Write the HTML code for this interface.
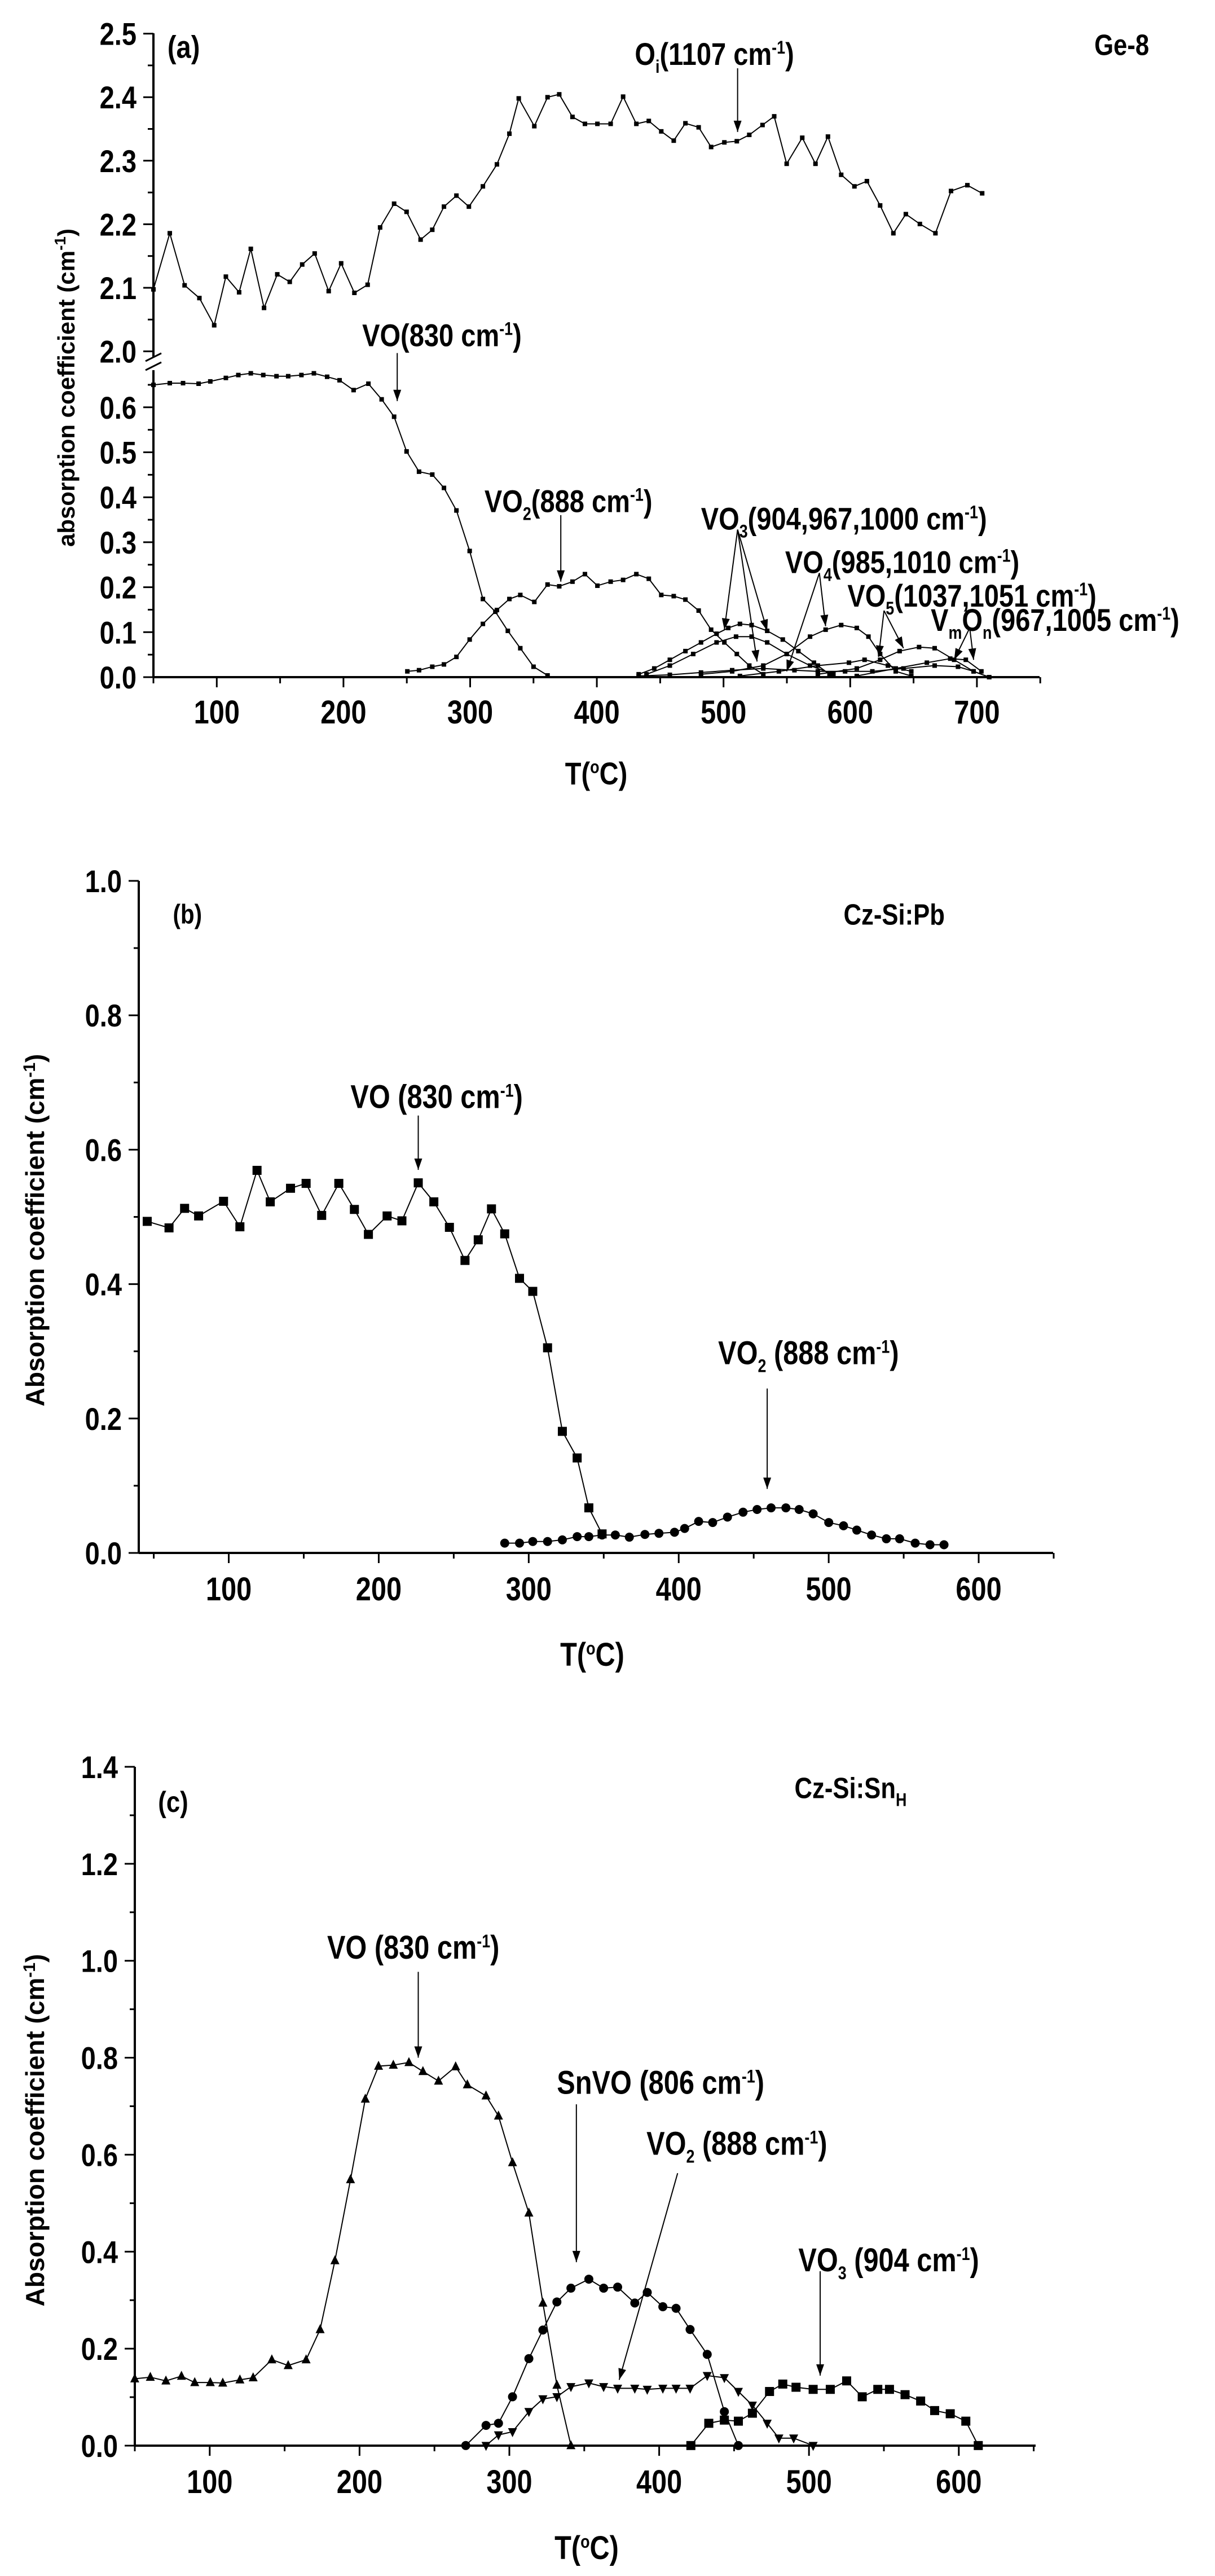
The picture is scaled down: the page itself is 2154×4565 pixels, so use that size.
<!DOCTYPE html>
<html><head><meta charset="utf-8"><style>
html,body{margin:0;padding:0;background:#fff;}
svg{display:block;}
text{font-family:"Liberation Sans Narrow","Liberation Sans",sans-serif;font-weight:bold;fill:#000;}
.yl{font-family:"Liberation Sans",sans-serif;}
</style></head><body>
<svg id="s" xmlns="http://www.w3.org/2000/svg" width="2154" height="4565" viewBox="0 0 2154 4565"></svg>
<script>
const S=document.getElementById('s');let h='';
const SX=0.7242;
function P(pts,off,sy){return pts.map(p=>[p[0]/SX,off+p[1]/sy]);}
function line(x1,y1,x2,y2,w){h+=`<line x1="${x1}" y1="${y1}" x2="${x2}" y2="${y2}" stroke="#000" stroke-width="${w||2}"/>`;}
function poly(pts,w){h+=`<polyline points="${pts.map(p=>p[0].toFixed(1)+','+p[1].toFixed(1)).join(' ')}" fill="none" stroke="#000" stroke-width="${w||2}"/>`;}
function marks(pts,type,r){pts.forEach(p=>{const[x,y]=p;
 if(type=='sq')h+=`<rect x="${x-r}" y="${y-r}" width="${2*r}" height="${2*r}"/>`;
 else if(type=='ci')h+=`<circle cx="${x}" cy="${y}" r="${r}"/>`;
 else if(type=='up')h+=`<polygon points="${x},${y-r*1.2} ${x-r},${y+r*0.8} ${x+r},${y+r*0.8}"/>`;
 else if(type=='dn')h+=`<polygon points="${x},${y+r*1.2} ${x-r},${y-r*0.8} ${x+r},${y-r*0.8}"/>`;});}
function arrow(x1,y1,x2,y2){line(x1,y1,x2,y2,2);const a=Math.atan2(y2-y1,x2-x1),L=20,W=7;
 const bx=x2-L*Math.cos(a),by=y2-L*Math.sin(a),nx=-Math.sin(a),ny=Math.cos(a);
 h+=`<polygon points="${x2},${y2} ${bx+W*nx},${by+W*ny} ${bx-W*nx},${by-W*ny}"/>`;}
function txt(x,y,s,fs,anchor,cls){h+=`<g transform="translate(${x},${y}) scale(0.84,1)"><text x="0" y="0" font-size="${fs}" ${anchor?'text-anchor="'+anchor+'"':''} ${cls?'class="'+cls+'"':''}>${s}</text></g>`;}
const sup=(s)=>`<tspan dy="-20" font-size="32">${s}</tspan><tspan dy="20">`;
const sub=(s)=>`<tspan dy="14" font-size="32">${s}</tspan><tspan dy="-14">`;
function cm(){return 'cm'+sup('-1')+')</tspan>';}

// ===== Panel A =====
(function(){
 const X=d=>272+(d-50)*2.246, y0=1200, lo=v=>y0-v*797, up=v=>622.6-(v-2)*1126;
 line(272,1200,1843,1200,4);
 line(272,59,272,632,4); line(272,656,272,1200,4);
 line(258,640,286,626,3); line(258,656,286,642,3);
 for(let d=50;d<=750;d+=50){const x=X(d);line(x,1200,x,d%100==0?1218:1211,3);}
 for(let d=100;d<=700;d+=100)txt(X(d),1282,d,58,'middle');
 for(let v=2.0;v<=2.501;v+=0.05){const y=up(v);const maj=Math.round(v*100)%10==0;line(272,y,maj?254:262,y,3);}
 for(let v=0;v<=0.651;v+=0.05){const y=lo(v);const maj=Math.round(v*100)%10==0;line(272,y,maj?254:262,y,3);}
 ['2.5','2.4','2.3','2.2','2.1','2.0'].forEach(s=>txt(242,up(+s)+20,s,56,'end'));
 ['0.6','0.5','0.4','0.3','0.2','0.1','0.0'].forEach(s=>txt(242,lo(+s)+20,s,56,'end'));
 txt(1057,1390,'T(<tspan dy="-20" font-size="32">o</tspan><tspan dy="20">C)</tspan>',56,'middle');
 h+=`<text class="yl" transform="translate(132,687) rotate(-90)" text-anchor="middle" font-size="42">absorption coefficient (cm<tspan dy="-16" font-size="28">-1</tspan><tspan dy="16">)</tspan></text>`;
 const o=0,sy=0.975;
 const Oi=[[197,500],[218,403],[237,493],[256,515],[275,562],[290,478],[307,505],[322,430],[339,532],[356,474],[372,487],[388,457],[404,438],[422,503],[438,455],[455,506],[472,492],[488,393],[506,352],[522,366],[540,414],[555,397],[570,357],[586,338],[602,357],[620,322],[638,284],[654,231],[666,170],[686,218],[703,168],[718,163],[735,202],[751,214],[767,214],[784,214],[800,167],[817,214],[833,209],[849,227],[865,243],[880,213],[897,220],[913,254],[930,246],[946,244],[962,233],[979,216],[994,201],[1010,283],[1030,238],[1047,283],[1063,236],[1080,302],[1097,322],[1113,313],[1130,355],[1147,403],[1163,370],[1181,387],[1201,403],[1221,330],[1242,320],[1261,334]];
 const VO=[[197,665],[218,662],[235,662],[255,663],[270,659],[290,653],[306,648],[322,645],[338,648],[355,650],[370,650],[387,648],[403,645],[420,651],[436,657],[454,674],[473,663],[490,690],[506,720],[522,780],[538,815],[555,820],[570,843],[586,882],[603,952],[620,1035],[636,1057],[652,1090],[668,1120],[685,1152],[703,1167]];
 const VO2=[[523,1160],[538,1158],[555,1152],[570,1148],[586,1135],[603,1105],[620,1078],[638,1054],[654,1035],[668,1028],[686,1040],[703,1010],[718,1013],[735,1005],[751,992],[767,1012],[784,1005],[800,1002],[817,992],[833,1000],[849,1028],[865,1030],[880,1036],[897,1055],[913,1088],[930,1110],[946,1130],[962,1150],[980,1165]];
 const extra=[
 [[820,1165],[840,1155],[860,1140],[880,1125],[900,1110],[920,1095],[935,1085],[950,1078],[965,1080],[985,1090],[1005,1105],[1025,1125],[1045,1145],[1065,1165]],
 [[830,1165],[860,1150],[890,1130],[920,1110],[945,1100],[965,1100],[985,1110],[1010,1130],[1040,1150],[1070,1165]],
 [[900,1165],[940,1160],[980,1150],[1010,1130],[1040,1100],[1060,1088],[1080,1080],[1100,1085],[1115,1100],[1130,1130],[1150,1160],[1170,1168]],
 [[950,1168],[1000,1160],[1050,1150],[1090,1145],[1110,1140],[1140,1150],[1170,1160]],
 [[1050,1165],[1100,1155],[1130,1140],[1155,1125],[1180,1118],[1200,1120],[1225,1140],[1250,1160],[1270,1170]],
 [[1100,1168],[1150,1155],[1190,1145],[1220,1138],[1240,1140],[1260,1160]],
 [[820,1168],[860,1166],[900,1162],[940,1158],[980,1155],[1020,1158],[1050,1160],[1085,1160],[1120,1160],[1160,1155],[1200,1150],[1230,1152],[1250,1160],[1270,1170]]];
 [Oi,VO,VO2].forEach(d=>{const p=P(d,o,sy);poly(p,2);marks(p,'sq',4);});
 extra.forEach(d=>{const p=P(d,o,sy);poly(p,2);marks(p,'sq',4);});
 const A=(a,b,c,d)=>{arrow(a/SX,b/sy,c/SX,d/sy);};
 A(947,118,947,228);A(510,610,510,693);A(720,890,720,1005);
 A(947,915,930,1088);A(947,915,972,1143);A(947,915,985,1090);
 A(1052,990,1010,1160);A(1052,990,1060,1082);
 A(1135,1055,1128,1135);A(1135,1055,1160,1120);
 A(1245,1085,1225,1140);A(1245,1085,1250,1140);
 const T=(zx,zy,s,fs,an)=>txt(zx/SX,zy/sy,s,fs||56,an);
 T(215,100,'(a)');T(1405,95,'Ge-8',52);
 T(815,112,'O'+sub('i')+'(1107 '+cm());
 T(465,598,'VO(830 '+cm());
 T(622,885,'VO'+sub('2')+'(888 '+cm());
 T(900,915,'VO'+sub('3')+'(904,967,1000 '+cm());
 T(1008,990,'VO'+sub('4')+'(985,1010 '+cm());
 T(1088,1048,'VO'+sub('5')+'(1037,1051 '+cm());
 T(1195,1090,'V'+sub('m')+'O'+sub('n')+'(967,1005 '+cm());
})();

// ===== Panel B =====
(function(){
 const X=d=>246+(d-40)*2.659, Y=v=>2752-v*1191;
 line(246,2752,1867,2752,4); line(246,1561,246,2752,4); line(228,1561,246,1561,3);
 for(let d=50;d<=650;d+=50){const x=X(d);line(x,2752,x,d%100==0?2770:2762,3);}
 for(let d=100;d<=600;d+=100)txt(X(d),2836,d,58,'middle');
 for(let v=0;v<=1.001;v+=0.1){const y=Y(v);const maj=Math.round(v*10)%2==0;line(246,y,maj?228:237,y,3);}
 ['1.0','0.8','0.6','0.4','0.2','0.0'].forEach(s=>txt(216,Y(+s)+20,s,56,'end'));
 txt(1050,2952,'T(<tspan dy="-20" font-size="32">o</tspan><tspan dy="20">C)</tspan>',58,'middle');
 h+=`<text class="yl" transform="translate(78,2180) rotate(-90)" text-anchor="middle" font-size="46">Absorption coefficient (cm<tspan dy="-16" font-size="30">-1</tspan><tspan dy="16">)</tspan></text>`;
 const o=1600,sy=1.04;
 const VO=[[189,587],[217,599],[237,563],[255,577],[287,550],[308,597],[330,493],[347,551],[373,526],[393,517],[413,576],[435,517],[455,565],[473,611],[497,577],[516,586],[537,516],[557,551],[577,598],[597,659],[614,621],[631,564],[648,610],[667,692],[684,716],[703,820],[722,974],[741,1023],[756,1115],[773,1163]];
 const VO2=[[648,1180],[667,1180],[684,1177],[703,1177],[722,1174],[741,1168],[756,1168],[773,1165],[790,1165],[808,1169],[828,1164],[846,1162],[866,1160],[879,1153],[897,1140],[915,1142],[934,1132],[954,1123],[972,1118],[990,1115],[1009,1115],[1026,1118],[1044,1126],[1064,1142],[1083,1148],[1100,1156],[1119,1165],[1138,1172],[1155,1172],[1175,1180],[1194,1183],[1212,1183]];
 let p=P(VO,o,sy);poly(p,2);marks(p,'sq',8);
 p=P(VO2,o,sy);poly(p,2);marks(p,'ci',8);
 arrow(537/SX,o+392/sy,537/SX,o+492/sy);arrow(985/SX,o+895/sy,985/SX,o+1080/sy);
 const T=(zx,zy,s,fs)=>txt(zx/SX,o+zy/sy,s,fs||56);
 T(222,38,'(b)',48);T(1083,40,'Cz-Si:Pb',52);
 T(450,378,'VO (830 '+cm(),58);T(922,850,'VO'+sub('2')+' (888 '+cm(),58);
})();

// ===== Panel C =====
(function(){
 const X=d=>239+(d-50)*2.656, Y=v=>4334-v*859.3;
 line(239,4334,1836,4334,4); line(239,3131,239,4334,4); line(221,3131,239,3131,3);
 for(let d=50;d<=650;d+=50){const x=X(d);line(x,4334,x,d%100==0?4352:4344,3);}
 for(let d=100;d<=600;d+=100)txt(X(d),4418,d,58,'middle');
 for(let v=0;v<=1.401;v+=0.1){const y=Y(v);const maj=Math.round(v*10)%2==0;line(239,y,maj?221:230,y,3);}
 ['1.4','1.2','1.0','0.8','0.6','0.4','0.2','0.0'].forEach(s=>txt(209,Y(+s)+20,s,56,'end'));
 txt(1040,4535,'T(<tspan dy="-20" font-size="32">o</tspan><tspan dy="20">C)</tspan>',58,'middle');
 h+=`<text class="yl" transform="translate(78,3775) rotate(-90)" text-anchor="middle" font-size="46">Absorption coefficient (cm<tspan dy="-16" font-size="30">-1</tspan><tspan dy="16">)</tspan></text>`;
 const o=3100,sy=1.065;
 const VO=[[173,1188],[193,1185],[213,1192],[233,1183],[250,1195],[270,1195],[286,1196],[308,1190],[325,1186],[349,1152],[370,1163],[393,1152],[411,1095],[430,965],[450,812],[469,660],[486,598],[505,596],[525,591],[543,608],[563,626],[585,599],[600,633],[624,654],[640,692],[658,780],[679,875],[697,1045],[715,1200],[733,1314]];
 const Sn=[[598,1314],[624,1276],[640,1272],[658,1222],[679,1150],[697,1096],[715,1043],[733,1017],[756,1000],[775,1017],[793,1015],[815,1045],[831,1025],[851,1052],[868,1055],[886,1095],[908,1142],[930,1250],[948,1314]];
 const VO2=[[624,1314],[640,1294],[658,1288],[679,1250],[697,1226],[715,1222],[733,1203],[756,1196],[775,1203],[793,1206],[815,1206],[831,1208],[851,1206],[868,1206],[886,1206],[908,1182],[930,1186],[948,1212],[966,1238],[985,1272],[1000,1300],[1019,1300],[1044,1314]];
 const VO3=[[887,1314],[910,1272],[930,1266],[948,1268],[966,1253],[988,1212],[1005,1198],[1022,1204],[1044,1208],[1066,1208],[1087,1192],[1107,1222],[1127,1208],[1142,1208],[1162,1218],[1182,1230],[1200,1248],[1220,1254],[1240,1268],[1256,1314]];
 let p=P(VO,o,sy);poly(p,2);marks(p,'up',8);
 p=P(Sn,o,sy);poly(p,2);marks(p,'ci',8);
 p=P(VO2,o,sy);poly(p,2);marks(p,'dn',8);
 p=P(VO3,o,sy);poly(p,2);marks(p,'sq',8);
 const A=(a,b,c,d)=>arrow(a/SX,o+b/sy,c/SX,o+d/sy);
 A(537,420,537,582);A(740,670,740,968);A(870,800,795,1190);A(1053,985,1053,1182);
 const T=(zx,zy,s,fs)=>txt(zx/SX,o+zy/sy,s,fs||56);
 T(203,118,'(c)',52);T(1020,92,'Cz-Si:Sn'+sub('H')+'</tspan>',52);
 T(420,395,'VO (830 '+cm(),58);T(715,650,'SnVO (806 '+cm(),58);
 T(830,765,'VO'+sub('2')+' (888 '+cm(),58);T(1025,985,'VO'+sub('3')+' (904 '+cm(),58);
})();
S.innerHTML=h;
</script>
</body></html>
